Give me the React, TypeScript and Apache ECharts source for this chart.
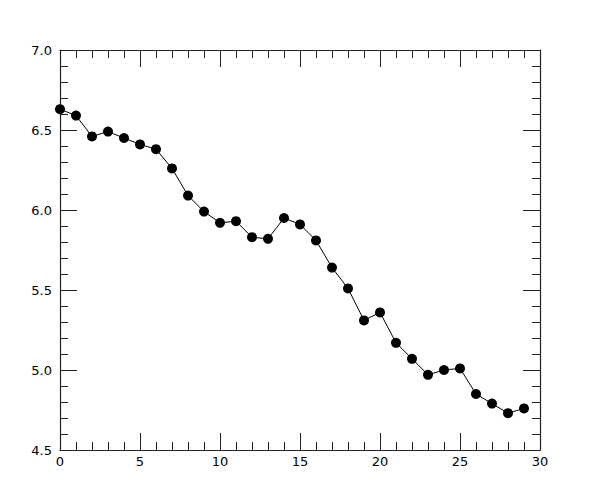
import React, { useEffect, useRef } from "react";
import * as echarts from "echarts";

const xValues = [0,1,2,3,4,5,6,7,8,9,10,11,12,13,14,15,16,17,18,19,20,21,22,23,24,25,26,27,28,29];
const yValues = [6.63,6.59,6.46,6.49,6.45,6.41,6.38,6.26,6.09,5.99,5.92,5.93,5.83,5.82,5.95,5.91,5.81,5.64,5.51,5.31,5.36,5.17,5.07,4.97,5.0,5.01,4.85,4.79,4.73,4.76];

const xMin = 0, xMax = 30, xInterval = 5;
const yMin = 4.5, yMax = 7.0, yInterval = 0.5;

export default function App() {
  const ref = useRef<HTMLDivElement>(null);
  useEffect(() => {
    if (!ref.current) return;
    const chart = echarts.init(ref.current, null, { renderer: "svg" });
    const axisColor = "#222";
    const tick = { show: true, inside: true, length: 17, lineStyle: { color: axisColor, width: 1 } };
    const minor = { show: true, splitNumber: 5, length: 8, lineStyle: { color: axisColor, width: 1 } };
    const line = { show: true, onZero: false, lineStyle: { color: axisColor, width: 1.2 } };
    const label = { fontFamily: "DejaVu Sans", fontSize: 13, color: "#000" };
    chart.setOption({
      animation: false,
      backgroundColor: "#fff",
      grid: { left: 60, right: 60, top: 50, bottom: 50, containLabel: false },
      xAxis: [
        {
          type: "value", min: xMin, max: xMax, interval: xInterval, position: "bottom",
          axisLine: line, axisTick: tick, minorTick: minor, splitLine: { show: false },
          axisLabel: { ...label, margin: 5, formatter: (v: number) => String(v) },
        },
        {
          type: "value", min: xMin, max: xMax, interval: xInterval, position: "top",
          axisLine: line, axisTick: tick, minorTick: minor, splitLine: { show: false },
          axisLabel: { show: false },
        },
      ],
      yAxis: [
        {
          type: "value", min: yMin, max: yMax, interval: yInterval, position: "left",
          axisLine: line, axisTick: tick, minorTick: minor, splitLine: { show: false },
          axisLabel: { ...label, margin: 8, formatter: (v: number) => v.toFixed(1) },
        },
        {
          type: "value", min: yMin, max: yMax, interval: yInterval, position: "right",
          axisLine: line, axisTick: tick, minorTick: minor, splitLine: { show: false },
          axisLabel: { show: false },
        },
      ],
      series: [
        {
          type: "line",
          xAxisIndex: 0,
          yAxisIndex: 0,
          data: xValues.map((x, i) => [x, yValues[i]]),
          symbol: "circle",
          symbolSize: 10,
          lineStyle: { color: "#000", width: 1 },
          itemStyle: { color: "#000" },
        },
      ],
    });
    return () => chart.dispose();
  }, []);
  return <div ref={ref} style={{ width: 600, height: 500, position: "absolute", left: 0, top: 0 }} />;
}
